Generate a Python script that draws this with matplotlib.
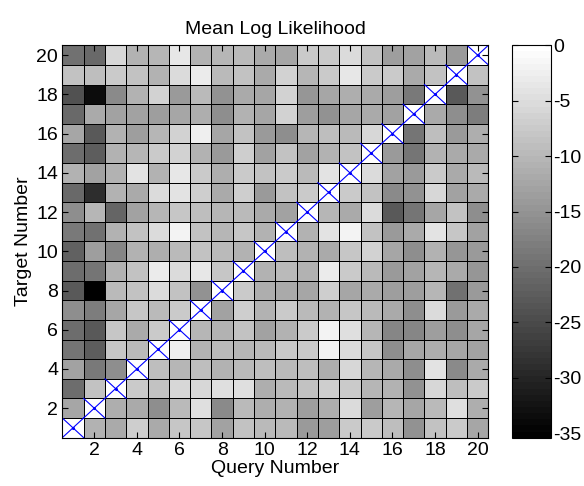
import numpy as np
import matplotlib
matplotlib.use('Agg')
import matplotlib.pyplot as plt

plt.rcParams['font.family'] = ['Liberation Sans', 'DejaVu Sans']
plt.rcParams['axes.unicode_minus'] = False

# Mean log likelihood, rows = target 1..20, columns = query 1..20
# (diagonal is left empty and marked with a cross)
query_ids = np.arange(1, 21)
target_ids = np.arange(1, 21)

row01 = [np.nan, -11.0, -12.1, -7.1, -12.1, -8.2, -8.2, -13.2, -8.8, -9.9, -9.9, -14.3, -13.7, -7.6, -7.6, -9.3, -15.4, -8.8, -7.6, -12.6]
row02 = [-12.6, np.nan, -11.5, -12.1, -16.0, -9.9, -4.9, -16.5, -9.9, -11.5, -11.0, -13.7, -11.5, -5.4, -13.7, -10.4, -12.6, -9.9, -4.9, -11.5]
row03 = [-20.4, -8.8, np.nan, -7.6, -8.8, -6.0, -6.0, -4.9, -4.9, -11.5, -9.9, -8.8, -7.1, -7.6, -10.4, -11.0, -15.4, -6.0, -9.3, -7.6]
row04 = [-13.2, -18.7, -16.0, np.nan, -9.3, -10.4, -9.3, -11.0, -9.9, -9.3, -9.9, -9.3, -11.5, -6.0, -10.4, -12.1, -16.0, -4.3, -16.5, -12.1]
row05 = [-19.3, -22.6, -8.2, -9.9, np.nan, -2.6, -11.0, -9.9, -10.4, -9.9, -7.6, -7.6, -2.1, -5.4, -8.2, -16.0, -12.6, -11.5, -12.6, -13.2]
row06 = [-20.4, -23.2, -8.2, -12.1, -7.6, np.nan, -10.4, -11.0, -8.8, -13.2, -11.0, -7.6, -2.1, -4.9, -10.4, -17.1, -17.1, -13.7, -16.0, -12.6]
row07 = [-16.0, -18.2, -12.6, -8.2, -9.9, -7.6, np.nan, -13.2, -7.1, -11.0, -7.6, -9.9, -11.0, -8.2, -9.9, -12.1, -16.0, -5.4, -14.3, -12.1]
row08 = [-23.2, -35.4, -9.9, -8.8, -5.4, -8.8, -15.4, np.nan, -7.6, -11.5, -12.1, -12.6, -7.1, -12.6, -12.1, -13.7, -13.7, -10.4, -19.9, -14.3]
row09 = [-20.4, -19.3, -11.0, -8.8, -3.2, -5.4, -3.8, -8.2, np.nan, -11.0, -9.9, -11.0, -3.2, -7.6, -9.9, -14.3, -13.2, -10.4, -12.1, -14.8]
row10 = [-22.1, -13.7, -17.1, -11.0, -11.5, -9.9, -8.8, -9.9, -11.0, np.nan, -9.3, -11.0, -12.1, -8.2, -6.5, -12.6, -16.0, -11.0, -14.8, -14.3]
row11 = [-18.7, -19.9, -11.0, -8.8, -5.4, -2.1, -8.8, -10.4, -8.2, -11.0, np.nan, -11.0, -4.3, -2.1, -8.8, -14.3, -12.1, -4.3, -8.2, -13.2]
row12 = [-16.0, -10.4, -21.5, -13.2, -10.4, -8.2, -9.3, -10.4, -9.9, -12.1, -13.2, np.nan, -10.4, -12.1, -5.4, -23.2, -19.3, -12.6, -8.8, -16.0]
row13 = [-21.0, -29.3, -11.0, -12.1, -5.4, -4.3, -7.1, -12.1, -7.1, -14.3, -8.8, -7.6, np.nan, -7.6, -8.8, -16.5, -15.4, -6.0, -13.2, -12.1]
row14 = [-11.0, -13.2, -11.0, -4.3, -11.0, -3.8, -7.6, -11.5, -7.6, -8.8, -7.6, -9.9, -4.3, np.nan, -5.4, -13.2, -14.3, -7.6, -12.1, -9.9]
row15 = [-20.4, -22.6, -11.0, -10.4, -7.6, -6.5, -11.0, -14.3, -7.1, -13.2, -8.8, -13.2, -11.0, -8.8, np.nan, -14.3, -19.3, -11.0, -12.1, -12.1]
row16 = [-12.6, -23.2, -11.0, -13.7, -10.4, -6.5, -2.6, -12.6, -8.8, -14.3, -16.0, -10.4, -9.3, -9.9, -6.0, np.nan, -19.3, -9.3, -14.3, -11.5]
row17 = [-21.0, -12.1, -13.2, -13.2, -13.7, -12.6, -11.5, -16.0, -11.0, -12.6, -6.5, -13.7, -15.4, -12.6, -12.1, -13.2, np.nan, -12.1, -16.0, -18.2]
row18 = [-24.3, -33.7, -16.5, -11.0, -6.5, -14.3, -9.9, -15.4, -12.1, -12.6, -6.5, -14.8, -12.6, -11.5, -12.1, -13.7, -18.7, np.nan, -23.2, -15.4]
row19 = [-8.8, -9.3, -7.6, -8.8, -11.0, -5.4, -3.2, -9.9, -8.8, -12.1, -6.5, -10.4, -7.6, -3.8, -7.6, -7.6, -12.1, -8.8, np.nan, -8.8]
row20 = [-19.9, -21.0, -6.0, -11.0, -10.4, -3.8, -11.0, -10.4, -9.9, -12.1, -12.6, -7.6, -7.6, -5.4, -8.8, -13.7, -13.2, -9.9, -14.3, np.nan]

loglik = np.array([row01, row02, row03, row04, row05, row06, row07, row08, row09, row10,
                   row11, row12, row13, row14, row15, row16, row17, row18, row19, row20])

fig = plt.figure(figsize=(5.84, 4.86), dpi=100)
ax = fig.add_axes([0.1067, 0.0995, 0.7295, 0.8073])
cax = fig.add_axes([0.877, 0.0995, 0.0657, 0.8073])

x_edges = np.append(query_ids - 0.5, query_ids[-1] + 0.5)
y_edges = np.append(target_ids - 0.5, target_ids[-1] + 0.5)
cmap = plt.get_cmap('gray', 64)
mesh = ax.pcolormesh(x_edges, y_edges, loglik, cmap=cmap, vmin=-35.4, vmax=0,
                     edgecolors='k', linewidth=0.7)
ax.set_facecolor('white')

# crosses on the diagonal cells
for i in query_ids:
    ax.plot([i - 0.5, i + 0.5], [i - 0.5, i + 0.5], color='b', lw=0.8)
    ax.plot([i - 0.5, i + 0.5], [i + 0.5, i - 0.5], color='b', lw=0.8)
    ax.plot(i, i, 'b.', ms=2.5)

ax.set_xlim(0.5, 20.5)
ax.set_ylim(0.5, 20.5)
ax.set_xticks(np.arange(2, 21, 2))
ax.set_yticks(np.arange(2, 21, 2))
ax.tick_params(direction='in', top=True, right=True, labelsize=14, length=4, pad=3)
ax.set_xlabel('Query Number', fontsize=14, labelpad=1)
ax.set_ylabel('Target Number', fontsize=14, labelpad=3)
ax.set_title('Mean Log Likelihood', fontsize=14, pad=8)

cb = fig.colorbar(mesh, cax=cax)
cb.set_ticks(np.arange(0, -36, -5))
cb.outline.set_linewidth(0.8)
cax.tick_params(direction='in', left=True, right=True, labelsize=14, length=4, pad=2)

fig.savefig('out.png', dpi=100)
